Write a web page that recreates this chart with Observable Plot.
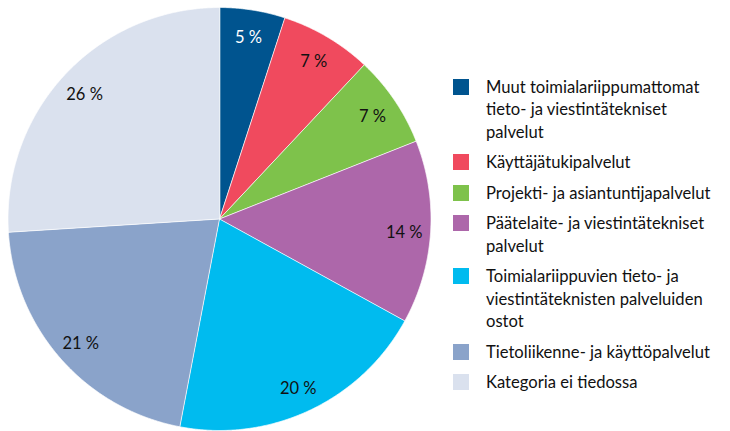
<!DOCTYPE html>
<html>
<head>
<meta charset="utf-8">
<script src="https://cdn.jsdelivr.net/npm/d3@7"></script>
<script src="https://cdn.jsdelivr.net/npm/@observablehq/plot@0.6"></script>
<style>
  html, body { margin: 0; padding: 0; background: #fff; }
  #wrap { position: relative; width: 730px; height: 431px; font-family: Lato, "Open Sans", sans-serif; }
  #legend { position: absolute; left: 453px; top: 75.75px; color: #111; font-size: 16.6px; }
  .item { position: relative; padding-left: 33px; line-height: 22.6px; margin-bottom: 7.8px; white-space: pre; }
  .sw { position: absolute; left: 0; top: 3px; width: 16px; height: 16px; }
</style>
</head>
<body>
<div id="wrap"></div>
<script>
const categories = [
  "Muut toimialariippumattomat\ntieto- ja viestintätekniset\npalvelut",
  "Käyttäjätukipalvelut",
  "Projekti- ja asiantuntijapalvelut",
  "Päätelaite- ja viestintätekniset\npalvelut",
  "Toimialariippuvien tieto- ja\nviestintäteknisten palveluiden\nostot",
  "Tietoliikenne- ja käyttöpalvelut",
  "Kategoria ei tiedossa"
];
const shares = [5, 7, 7, 14, 20, 21, 26];
const colors = ["#00548f", "#f04a5e", "#7ec24b", "#ad67aa", "#00bbef", "#8aa3ca", "#dae1ee"];
const labelColors = ["#ffffff", "#111111", "#111111", "#111111", "#111111", "#111111", "#111111"];

const data = categories.map((c, i) => ({category: c, share: shares[i], label: `${shares[i]} %`, labelColor: labelColors[i]}));
const arcs = d3.pie().sort(null).value(d => d.share)(data);

const features = arcs.map(a => {
  const ring = [[0, 0]];
  const n = Math.max(2, Math.ceil((a.endAngle - a.startAngle) / 0.005));
  for (let k = 0; k <= n; ++k) {
    const t = a.startAngle + (a.endAngle - a.startAngle) * k / n;
    ring.push([Math.sin(t), -Math.cos(t)]);
  }
  ring.push([0, 0]);
  return {type: "Feature", properties: a.data, geometry: {type: "Polygon", coordinates: [ring]}};
});

const labelR = 0.875;
const labelPts = arcs.map(a => {
  const m = (a.startAngle + a.endAngle) / 2;
  return {x: labelR * Math.sin(m), y: -labelR * Math.cos(m), ...a.data};
});

const chart = Plot.plot({
  width: 730,
  height: 431,
  marginLeft: 7.5,
  marginTop: 7,
  marginRight: 299.5,
  marginBottom: 1,
  projection: {type: "identity", domain: {type: "MultiPoint", coordinates: [[-1, -1], [1, 1]]}},
  color: {domain: categories, range: colors},
  style: {fontFamily: "Lato, 'Open Sans', sans-serif", background: "transparent"},
  marks: [
    Plot.geo(features, {fill: d => d.properties.category, stroke: "white", strokeWidth: 0.7}),
    Plot.text(labelPts, {x: "x", y: "y", text: "label", fill: "labelColor", fontSize: 16.5, dy: 2})
  ]
});

const wrap = document.getElementById("wrap");
wrap.appendChild(chart);
chart.style.position = "absolute";
chart.style.left = "0";
chart.style.top = "0";

const legend = document.createElement("div");
legend.id = "legend";
categories.forEach((c, i) => {
  const it = document.createElement("div");
  it.className = "item";
  const sw = document.createElement("span");
  sw.className = "sw";
  sw.style.background = colors[i];
  it.appendChild(sw);
  it.appendChild(document.createTextNode(c));
  legend.appendChild(it);
});
wrap.appendChild(legend);
</script>
</body>
</html>
